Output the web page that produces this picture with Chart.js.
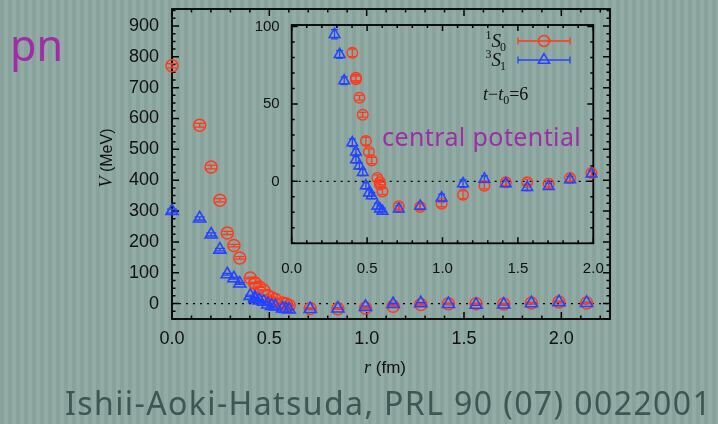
<!DOCTYPE html>
<html>
<head>
<meta charset="utf-8">
<script src="https://cdn.jsdelivr.net/npm/chart.js@4.4.1/dist/chart.umd.min.js"></script>
<style>
  body { margin: 0; }
  #wrap {
    position: relative; width: 718px; height: 424px; overflow: hidden;
    background: repeating-linear-gradient(90deg, #88a29c 0px, #88a29c 4px, #92aba5 4px, #92aba5 8px);
    font-family: "Noto Sans", sans-serif;
  }
  #wrap canvas { position: absolute; }
  .txt { position: absolute; white-space: nowrap; line-height: 1; }
  #pn { left: 10px; top: 23px; font-size: 43px; color: #a02ca6; }
  #central { left: 382px; top: 124px; font-size: 25px; color: #9c2fa6; letter-spacing: 0.4px; }
  #cite { left: 65px; top: 387px; font-size: 32px; color: #3f5653; letter-spacing: 1.4px; }
</style>
</head>
<body>
<div id="wrap">
  <div class="txt" id="pn">pn</div>
  <canvas id="main" width="718" height="424" style="left:0;top:0"></canvas>
  <canvas id="inset" width="360" height="270" style="left:250px;top:15px"></canvas>
  <div class="txt" id="central">central potential</div>
  <div class="txt" id="cite">Ishii-Aoki-Hatsuda, PRL 90 (07) 0022001</div>
</div>
<script>
// lattice distances r (fm) and potentials V (MeV)
var r1S0 = [0.000, 0.142, 0.201, 0.246, 0.284, 0.318, 0.348, 0.402, 0.426, 0.426, 0.449, 0.471, 0.492, 0.512, 0.531, 0.568, 0.585, 0.585, 0.602, 0.710, 0.852, 0.994, 1.136, 1.278, 1.420, 1.562, 1.704, 1.846, 1.988, 2.130];
var v1S0 = [771, 578, 443, 335, 229, 188, 148, 83, 67, 66, 54, 43, 26, 19, 13.5, 2.2, -0.6, -2.1, -6.5, -16, -16.5, -14.4, -8.6, -2.8, -0.6, -0.6, -1.5, 2.2, 5.4, 2];
var e1S0 = [7, 6, 6, 5, 5, 4, 4, 2.5, 2, 2, 1.5, 1.5, 2.5, 2, 2, 2, 1.5, 1.5, 2, 2, 2, 2, 2.5, 2, 2, 2, 2, 2, 2, 2];

var r3S1 = [0.000, 0.142, 0.201, 0.246, 0.284, 0.318, 0.348, 0.402, 0.426, 0.426, 0.449, 0.471, 0.492, 0.512, 0.531, 0.568, 0.585, 0.602, 0.710, 0.852, 0.994, 1.136, 1.278, 1.420, 1.562, 1.704, 1.846, 1.988, 2.130];
var v3S1 = [300, 276, 224, 175, 95, 82, 65, 25, 19, 14, 10, 5.8, -2.8, -7.5, -9.2, -16, -17.8, -19.3, -17.8, -16, -10.7, -1.5, 1.5, -1.5, -3.9, -3.2, 1.1, 4.8, 2];
var e3S1 = [6, 5, 5, 4, 3, 2.5, 2.5, 2.5, 2, 2, 2, 2, 2, 2, 2, 2, 2, 2, 2, 2, 2.5, 2.5, 2, 2, 2, 2, 2, 2, 2];

var mainXTicks = [0, 0.5, 1.0, 1.5, 2.0];
var mainYTicks = [0, 100, 200, 300, 400, 500, 600, 700, 800, 900];
var insetXTicks = [0, 0.5, 1.0, 1.5, 2.0];
var insetYTicks = [0, 50, 100];

var RED = '#ff3a1c';
var BLUE = '#2443ff';

function pts(xs, ys) {
    return xs.map(function (x, i) { return { x: x, y: ys[i] }; });
}

// gnuplot style box with inward ticks on all four sides
var framePlugin = {
    id: 'frame',
    beforeDatasetsDraw: function (chart, args, o) {
        var ctx = chart.ctx, a = chart.chartArea, x = chart.scales.x, y = chart.scales.y;
        ctx.save();
        ctx.strokeStyle = '#000';
        ctx.lineWidth = 1.5;
        ctx.beginPath();
        var v, px, L;
        for (v = x.min; v <= x.max + 1e-9; v += o.xMinor) {
            px = x.getPixelForValue(v);
            L = Math.abs(v / o.xMajor - Math.round(v / o.xMajor)) < 1e-6 ? o.major : o.minor;
            ctx.moveTo(px, a.bottom); ctx.lineTo(px, a.bottom - L);
            ctx.moveTo(px, a.top); ctx.lineTo(px, a.top + L);
        }
        var y0 = Math.ceil(y.min / o.yMinor) * o.yMinor;
        for (v = y0; v <= y.max + 1e-9; v += o.yMinor) {
            px = y.getPixelForValue(v);
            L = Math.abs(v / o.yMajor - Math.round(v / o.yMajor)) < 1e-6 ? o.major : o.minor;
            ctx.moveTo(a.left, px); ctx.lineTo(a.left + L, px);
            ctx.moveTo(a.right, px); ctx.lineTo(a.right - L, px);
        }
        ctx.stroke();
        // zero line
        ctx.setLineDash([2, 5]);
        ctx.lineWidth = 1.3;
        ctx.beginPath();
        px = y.getPixelForValue(0);
        ctx.moveTo(a.left, px); ctx.lineTo(a.right, px);
        ctx.stroke();
        ctx.setLineDash([]);
        ctx.lineWidth = 1.8;
        ctx.strokeRect(a.left, a.top, a.right - a.left, a.bottom - a.top);
        ctx.restore();
    }
};

var errPlugin = {
    id: 'errbars',
    beforeDatasetsDraw: function (chart, args, o) {
        var ctx = chart.ctx, x = chart.scales.x, y = chart.scales.y;
        ctx.save();
        ctx.lineWidth = 1.3;
        chart.data.datasets.forEach(function (ds) {
            ctx.strokeStyle = ds.borderColor;
            ctx.beginPath();
            ds.data.forEach(function (p, i) {
                if (p.x > x.max + 0.02 || p.y > y.max || p.y < y.min) return;
                var px = x.getPixelForValue(p.x);
                var lo = y.getPixelForValue(p.y - ds.errors[i]);
                var hi = y.getPixelForValue(p.y + ds.errors[i]);
                ctx.moveTo(px, lo); ctx.lineTo(px, hi);
                ctx.moveTo(px - o.cap, lo); ctx.lineTo(px + o.cap, lo);
                ctx.moveTo(px - o.cap, hi); ctx.lineTo(px + o.cap, hi);
            });
            ctx.stroke();
        });
        ctx.restore();
    }
};

var mainTitles = {
    id: 'mainTitles',
    afterDraw: function (chart) {
        var ctx = chart.ctx;
        ctx.save();
        ctx.fillStyle = '#111';
        ctx.textBaseline = 'alphabetic';
        // x title
        var f1 = 'italic 18px "Liberation Serif"', f2 = '17px "Liberation Sans"';
        ctx.font = f1; var w1 = ctx.measureText('r').width;
        ctx.font = f2; var w2 = ctx.measureText(' (fm)').width;
        var sx = 385 - (w1 + w2) / 2;
        ctx.font = f1; ctx.fillText('r', sx, 373);
        ctx.font = f2; ctx.fillText(' (fm)', sx + w1, 373);
        // y title
        ctx.translate(111.5, 158);
        ctx.rotate(-Math.PI / 2);
        ctx.font = f1; w1 = ctx.measureText('V').width;
        ctx.font = '16px "Liberation Sans"'; w2 = ctx.measureText(' (MeV)').width;
        sx = -(w1 + w2) / 2;
        ctx.font = f1; ctx.fillText('V', sx, 0);
        ctx.font = '16px "Liberation Sans"'; ctx.fillText(' (MeV)', sx + w1, 0);
        ctx.restore();
    }
};

function marker(ctx, style, cx, cy, r, color) {
    ctx.strokeStyle = color;
    ctx.beginPath();
    if (style === 'circle') {
        ctx.arc(cx, cy, r, 0, Math.PI * 2);
    } else {
        ctx.moveTo(cx, cy - r);
        ctx.lineTo(cx + r * Math.sin(Math.PI / 3), cy + r / 2);
        ctx.lineTo(cx - r * Math.sin(Math.PI / 3), cy + r / 2);
        ctx.closePath();
    }
    ctx.stroke();
}

// inset key and label, drawn in the inset canvas coords
var insetKey = {
    id: 'insetKey',
    afterDraw: function (chart) {
        var ctx = chart.ctx;
        ctx.save();
        ctx.fillStyle = '#111';
        ctx.textBaseline = 'alphabetic';
        var rows = [
            { sup: '1', sub: '0', y: 32, color: RED, style: 'circle', r: 5.5 },
            { sup: '3', sub: '1', y: 51, color: BLUE, style: 'triangle', r: 6.5 }
        ];
        rows.forEach(function (row) {
            var right = 257, base = row.y;
            ctx.font = '12px "Liberation Serif"';
            var wsub = ctx.measureText(row.sub).width;
            var wsup = ctx.measureText(row.sup).width;
            ctx.font = 'italic 19px "Liberation Serif"';
            var ws = ctx.measureText('S').width;
            var sx = right - wsub - ws - wsup;
            ctx.font = '12px "Liberation Serif"';
            ctx.fillText(row.sup, sx, base - 8);
            ctx.font = 'italic 19px "Liberation Serif"';
            ctx.fillText('S', sx + wsup, base);
            ctx.font = '12px "Liberation Serif"';
            ctx.fillText(row.sub, sx + wsup + ws - 1, base + 4);
            // key sample: error bar line with marker
            var ly = base - 6;
            ctx.strokeStyle = row.color;
            ctx.lineWidth = 1.3;
            ctx.beginPath();
            ctx.moveTo(268, ly); ctx.lineTo(320, ly);
            ctx.moveTo(268, ly - 3.5); ctx.lineTo(268, ly + 3.5);
            ctx.moveTo(320, ly - 3.5); ctx.lineTo(320, ly + 3.5);
            ctx.stroke();
            ctx.lineWidth = 1.5;
            marker(ctx, row.style, 294, ly, row.r, row.color);
        });
        // t - t0 = 6
        var bx = 233, by = 85;
        ctx.fillStyle = '#111';
        ctx.font = 'italic 18px "Liberation Serif"';
        ctx.fillText('t', bx, by); bx += ctx.measureText('t').width;
        ctx.font = '18px "Liberation Serif"';
        ctx.fillText('\u2212', bx, by); bx += ctx.measureText('\u2212').width;
        ctx.font = 'italic 18px "Liberation Serif"';
        ctx.fillText('t', bx, by); bx += ctx.measureText('t').width;
        ctx.font = '12px "Liberation Serif"';
        ctx.fillText('0', bx, by + 4); bx += ctx.measureText('0').width;
        ctx.font = '18px "Liberation Serif"';
        ctx.fillText('=6', bx, by);
        ctx.restore();
    }
};

var tickFontMain = { family: '"Liberation Sans", Arial, sans-serif', size: 18 };
var tickFontInset = { family: '"Liberation Sans", Arial, sans-serif', size: 15 };

new Chart(document.getElementById('main'), {
    type: 'scatter',
    data: {
        datasets: [
            { label: '3S1', data: pts(r3S1, v3S1), errors: e3S1, pointStyle: 'triangle', pointRadius: 7,
              borderColor: BLUE, backgroundColor: 'rgba(0,0,0,0)', pointBorderWidth: 1.6, clip: false },
            { label: '1S0', data: pts(r1S0, v1S0), errors: e1S0, pointStyle: 'circle', pointRadius: 6,
              borderColor: RED, backgroundColor: 'rgba(0,0,0,0)', pointBorderWidth: 1.5, clip: false }
        ]
    },
    options: {
        responsive: false,
        animation: false,
        events: [],
        layout: { padding: { top: 9, right: 108, left: 0, bottom: 0 } },
        plugins: {
            legend: { display: false },
            tooltip: { enabled: false },
            frame: { xMinor: 0.1, xMajor: 0.5, yMinor: 25, yMajor: 100, major: 7, minor: 3.5 },
            errbars: { cap: 5 }
        },
        scales: {
            x: {
                type: 'linear', min: 0, max: 2.25,
                grid: { display: false, drawTicks: false }, border: { display: false },
                ticks: { font: tickFontMain, color: '#111', padding: 9, maxRotation: 0,
                         callback: function (v) { return v.toFixed(1); } },
                afterBuildTicks: function (s) { s.ticks = mainXTicks.map(function (v) { return { value: v }; }); },
                afterFit: function (s) { s.height = 105; s.paddingLeft = 0; s.paddingRight = 0; }
            },
            y: {
                type: 'linear', min: -50, max: 955,
                grid: { display: false, drawTicks: false }, border: { display: false },
                ticks: { font: tickFontMain, color: '#111', padding: 13 },
                afterBuildTicks: function (s) { s.ticks = mainYTicks.map(function (v) { return { value: v }; }); },
                afterFit: function (s) { s.width = 172; s.paddingTop = 0; s.paddingBottom = 0; }
            }
        }
    },
    plugins: [framePlugin, errPlugin, mainTitles]
});

new Chart(document.getElementById('inset'), {
    type: 'scatter',
    data: {
        datasets: [
            { label: '3S1', data: pts(r3S1, v3S1), errors: e3S1, pointStyle: 'triangle', pointRadius: 6.2,
              borderColor: BLUE, backgroundColor: 'rgba(0,0,0,0)', pointBorderWidth: 1.5, clip: 8 },
            { label: '1S0', data: pts(r1S0, v1S0), errors: e1S0, pointStyle: 'circle', pointRadius: 5.3,
              borderColor: RED, backgroundColor: 'rgba(0,0,0,0)', pointBorderWidth: 1.4, clip: 8 }
        ]
    },
    options: {
        responsive: false,
        animation: false,
        events: [],
        layout: { padding: { top: 10, right: 16.7, left: 0, bottom: 0 } },
        plugins: {
            legend: { display: false },
            tooltip: { enabled: false },
            frame: { xMinor: 0.1, xMajor: 0.5, yMinor: 10, yMajor: 50, major: 6, minor: 3 },
            errbars: { cap: 3.5 }
        },
        scales: {
            x: {
                type: 'linear', min: 0, max: 2.0,
                grid: { display: false, drawTicks: false }, border: { display: false },
                ticks: { font: tickFontInset, color: '#111', padding: 17, maxRotation: 0,
                         callback: function (v) { return v.toFixed(1); } },
                afterBuildTicks: function (s) { s.ticks = insetXTicks.map(function (v) { return { value: v }; }); },
                afterFit: function (s) { s.height = 41.7; s.paddingLeft = 0; s.paddingRight = 0; }
            },
            y: {
                type: 'linear', min: -40, max: 101,
                grid: { display: false, drawTicks: false }, border: { display: false },
                ticks: { font: tickFontInset, color: '#111', padding: 12 },
                afterBuildTicks: function (s) { s.ticks = insetYTicks.map(function (v) { return { value: v }; }); },
                afterFit: function (s) { s.width = 41.7; s.paddingTop = 0; s.paddingBottom = 0; }
            }
        }
    },
    plugins: [framePlugin, errPlugin, insetKey]
});
</script>
</body>
</html>
